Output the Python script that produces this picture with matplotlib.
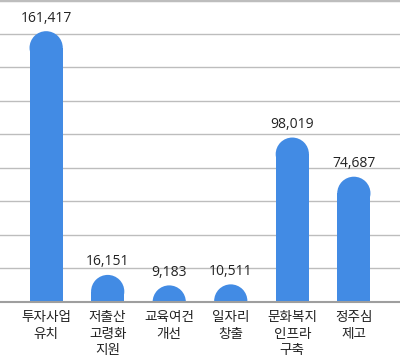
import matplotlib
matplotlib.use("Agg")
import matplotlib.pyplot as plt
from matplotlib.patches import Rectangle, Ellipse

plt.rcParams["font.family"] = ["Noto Sans CJK KR", "DejaVu Sans"]

categories = ["투자사업\n유치", "저출산\n고령화\n지원", "교육여건\n개선", "일자리\n창출", "문화복지\n인프라\n구축", "정주심\n제고"]
values = [161417, 16151, 9183, 10511, 98019, 74687]

BLUE = "#428be4"
Y_MAX = 180000
BAR_W = 0.54

fig = plt.figure(figsize=(4, 3.6), dpi=100)
ax = fig.add_axes([0, 58 / 360, 1, 302 / 360])
ax.set_xlim(-0.75, len(values) - 0.25)
ax.set_ylim(0, Y_MAX)
ax.axis("off")

for y in range(20000, Y_MAX + 1, 20000):
    ax.axhline(y, color="#bdbdbd", linewidth=1.0 if y < Y_MAX else 2.5, zorder=1, clip_on=False)
ax.axhline(0, color="#9e9e9e", linewidth=1.5, zorder=3, clip_on=False)

# radius of the rounded cap in data units (half bar width, in y units)
x_span = ax.get_xlim()[1] - ax.get_xlim()[0]
ry = (BAR_W / 2) * (400 / x_span) * (Y_MAX / 302)

for i, v in enumerate(values):
    body = max(v - ry, 0)
    ax.add_patch(Rectangle((i - BAR_W / 2, 0), BAR_W, body, color=BLUE, lw=0, zorder=2))
    ax.add_patch(Ellipse((i, body), BAR_W, 2 * ry, color=BLUE, lw=0, zorder=2))
    ax.annotate(f"{v:,}", (i, body + ry), xytext=(0, 4), textcoords="offset points",
                ha="center", va="bottom", fontsize=10, color="#222222",
                family=["Open Sans", "DejaVu Sans"])

for i, c in enumerate(categories):
    ax.annotate(c, (i, 0), xytext=(0, -6), textcoords="offset points",
                ha="center", va="top", fontsize=9.8, color="#222222", linespacing=1.2)

fig.savefig("out.png", dpi=100)
